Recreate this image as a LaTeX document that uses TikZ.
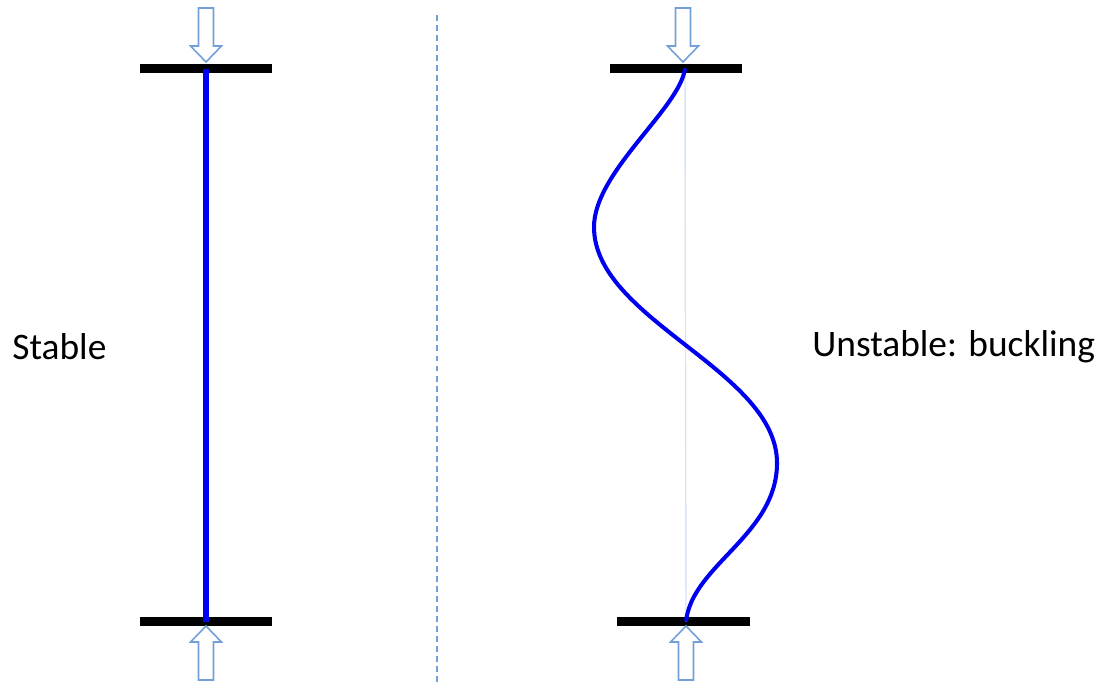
\documentclass[tikz,border=0pt]{standalone}
\usepackage{fontspec}
\setmainfont{Carlito}
\usepackage{tikz}
\usetikzlibrary{arrows.meta,positioning,calc}

\definecolor{colblue}{RGB}{0,0,240}
\definecolor{loadblue}{RGB}{115,160,215}
\definecolor{axisblue}{RGB}{215,228,242}

\tikzset{
  plate/.style={line width=5.1pt,black},
  column/.style={line width=3.4pt,colblue},
  bent/.style={line width=2.3pt,colblue},
  load/.pic={\draw[loadblue,line width=0.9pt,line join=miter]
     (0,0)--(-15.5,16)--(-7.5,16)--(-7.5,54)--(7.5,54)--(7.5,16)--(15.5,16)--cycle;},
  lbl/.style={font=\fontsize{21.3}{25}\selectfont,inner sep=0pt}
}

\begin{document}
\begin{tikzpicture}[x=0.02cm,y=-0.02cm]
\useasboundingbox (0,0) rectangle (1101,684);
% --- left: straight column ---
\coordinate (sTop) at (206,68.5);
\coordinate (sBot) at (206,621.5);
\draw[plate] (140,68.5) -- (272,68.5);
\draw[plate] (140,621.5) -- (272,621.5);
\draw[column] (sTop) -- (sBot);
\pic[rotate=180] at ($(sTop)+(0,-6.5)$) {load};
\pic at ($(sBot)+(0,4.5)$) {load};
\node[lbl,anchor=west] (stable) at (12,347) {Stable};
% --- divider ---
\draw[loadblue,line width=0.8pt,dash pattern=on 3.4pt off 2.3pt] (437,15) -- (437,684);
% --- right: buckled column ---
\coordinate (bTop) at (685,68.5);
\coordinate (bBot) at (686,621.5);
\coordinate (bLeft) at (594,227);
\coordinate (bRight) at (777,463);
\draw[plate] (610,68.5) -- (742,68.5);
\draw[plate] (617,621.5) -- (750,621.5);
\draw[axisblue,line width=0.8pt] (bTop) -- (bBot);
\draw[bent] (bTop) .. controls (680,108) and (594,172) .. (bLeft)
  .. controls (594,320) and (777,370) .. (bRight)
  .. controls (777,535) and (692,565) .. (bBot);
\pic[rotate=180] at ($(bTop)+(-2,-6.5)$) {load};
\pic at ($(bBot)+(0,4.5)$) {load};
\node[lbl,anchor=west] (unstable) at (812,347) {Unstable: buckling};
\end{tikzpicture}
\end{document}
